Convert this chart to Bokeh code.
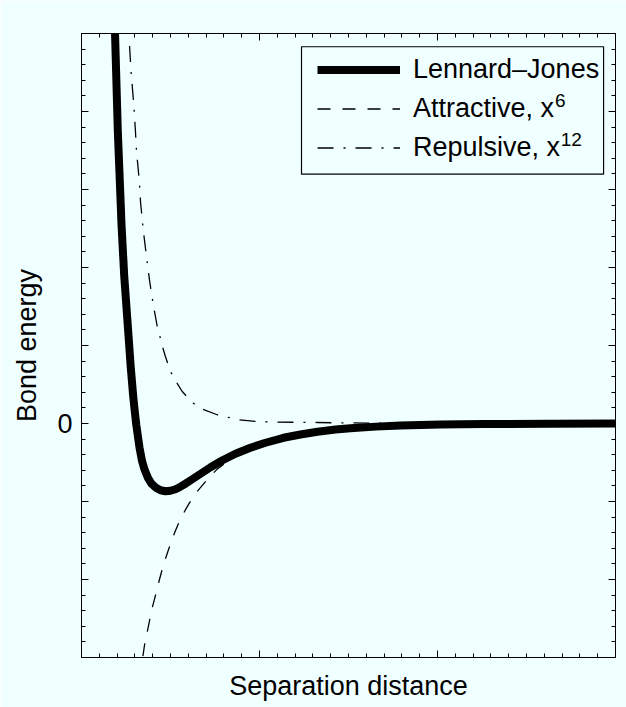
from bokeh.plotting import figure
from bokeh.models import (LinearAxis, FixedTicker, Legend, LegendItem, BoxAnnotation,
                          Label, Range1d, CustomJSTickFormatter)
from bokeh.embed import file_html
from bokeh.resources import INLINE

# ---- data (axis units: x 0..3, y -3..5) ----
lj_x = [0.183, 0.188, 0.204, 0.225, 0.240, 0.258, 0.276, 0.290, 0.300, 0.308, 0.316, 0.326,
        0.340, 0.354, 0.374, 0.393, 0.416, 0.444, 0.472, 0.500, 0.528, 0.556, 0.584, 0.618,
        0.652, 0.725, 0.792, 0.865, 0.949, 1.034, 1.135, 1.230, 1.326, 1.427, 1.511, 1.652,
        1.792, 2.017, 2.258, 2.635, 3.0]
lj_y = [5.42, 5.03, 3.75, 2.54, 1.89, 1.32, 0.74, 0.36, 0.14, -0.02, -0.15, -0.31,
        -0.48, -0.59, -0.70, -0.77, -0.82, -0.856, -0.869, -0.862, -0.843, -0.81, -0.772, -0.721,
        -0.67, -0.561, -0.471, -0.388, -0.311, -0.247, -0.183, -0.141, -0.106, -0.078, -0.06, -0.04,
        -0.027, -0.014, -0.006, -0.003, -0.001]

att_x = [0.326, 0.344, 0.356, 0.375, 0.393, 0.416, 0.438, 0.462, 0.490, 0.523, 0.556, 0.603,
         0.650, 0.714, 0.762, 0.837, 0.978, 1.135, 1.326, 1.511, 1.792, 2.258, 3.0]
att_y = [-3.30, -3.00, -2.81, -2.61, -2.40, -2.20, -2.00, -1.80, -1.61, -1.40, -1.22, -1.03,
         -0.87, -0.70, -0.585, -0.46, -0.29, -0.19, -0.12, -0.066, -0.031, -0.009, -0.002]

rep_x = [0.270, 0.279, 0.292, 0.303, 0.309, 0.324, 0.332, 0.347, 0.365, 0.382, 0.395, 0.406,
         0.425, 0.437, 0.453, 0.472, 0.500, 0.532, 0.566, 0.622, 0.678, 0.762, 0.884, 0.987,
         1.099, 1.324, 1.427, 1.792, 3.0]
rep_y = [4.84, 4.49, 4.14, 3.75, 3.49, 3.13, 2.83, 2.48, 2.14, 1.84, 1.64, 1.49,
         1.25, 1.15, 1.00, 0.855, 0.667, 0.535, 0.41, 0.269, 0.185, 0.112, 0.047, 0.026,
         0.018, 0.013, 0.009, 0.003, 0.0]

x_major = [0, 1, 2, 3]
y_major = [-3, -2, -1, 0, 1, 2, 3, 4, 5]
labels = ["Lennard\u2013Jones", "Attractive, x", "Repulsive, x"]
superscripts = ["6", "12"]

BG = "#f0ffff"
FONT = "Liberation Sans"

p = figure(frame_width=534, frame_height=624, x_range=Range1d(0, 3), y_range=Range1d(-3, 5),
           output_backend="svg", toolbar_location=None,
           min_border_left=81, min_border_right=11, min_border_top=33, min_border_bottom=50,
           background_fill_color=BG, border_fill_color=BG)
p.xgrid.visible = False
p.ygrid.visible = False
p.outline_line_color = "black"
p.outline_line_width = 1

xt = FixedTicker(ticks=x_major, minor_ticks=[i / 10 for i in range(31)])
yt = FixedTicker(ticks=y_major, minor_ticks=[-3 + 0.2 * i for i in range(41)])
blank = CustomJSTickFormatter(code="return '';")
zero_only = CustomJSTickFormatter(code="return Math.abs(tick) < 1e-9 ? '0' : '';")


def style(ax):
    ax.major_tick_in = 7
    ax.major_tick_out = 0
    ax.minor_tick_in = 4
    ax.minor_tick_out = 0
    ax.axis_line_color = "black"
    ax.major_tick_line_color = "black"
    ax.minor_tick_line_color = "black"


xa = p.xaxis[0]
xa.ticker = xt
xa.formatter = blank
xa.axis_label = "Separation distance"
xa.axis_label_text_font = FONT
xa.axis_label_text_font_size = "27px"
xa.axis_label_text_font_style = "normal"
xa.axis_label_text_color = "black"
xa.axis_label_standoff = 13
xa.major_label_text_font_size = "1px"
style(xa)

ya = p.yaxis[0]
ya.ticker = yt
ya.formatter = zero_only
ya.axis_label = "Bond energy"
ya.axis_label_text_font = FONT
ya.axis_label_text_font_size = "27px"
ya.axis_label_text_font_style = "normal"
ya.axis_label_text_color = "black"
ya.axis_label_standoff = 12
ya.major_label_text_font = FONT
ya.major_label_text_font_size = "27px"
ya.major_label_text_color = "black"
ya.major_label_standoff = 9
style(ya)

top = LinearAxis(ticker=xt, formatter=blank, major_label_text_font_size="1px")
style(top)
p.add_layout(top, "above")
right = LinearAxis(ticker=yt, formatter=blank, major_label_text_font_size="1px")
style(right)
p.add_layout(right, "right")

r_lj = p.line(lj_x, lj_y, line_color="black", line_width=8, line_join="round")
r_att = p.line(att_x, att_y, line_color="black", line_width=1.3, line_dash="13 12")
r_rep = p.line(rep_x, rep_y, line_color="black", line_width=1.3, line_dash="16 10 2 10")

box = BoxAnnotation(left=1.236, right=2.933, bottom=3.197, top=4.83,
                    fill_color=BG, fill_alpha=1.0, line_color="black", line_alpha=1.0,
                    line_width=1.2)
p.add_layout(box)

legend = Legend(items=[LegendItem(label=labels[0], renderers=[r_lj]),
                       LegendItem(label=labels[1], renderers=[r_att]),
                       LegendItem(label=labels[2], renderers=[r_rep])],
                location=(236, 490), padding=0, spacing=0, margin=0,
                glyph_width=83, glyph_height=39, label_height=39, label_standoff=13,
                label_text_font=FONT, label_text_font_size="27px", label_text_color="black",
                border_line_alpha=0, background_fill_alpha=0)
p.add_layout(legend)

for txt, xs, ys in zip(superscripts, [2.660, 2.692], [4.146, 3.646]):
    p.add_layout(Label(x=xs, y=ys, text=txt, text_font=FONT, text_font_size="19px",
                       text_baseline="middle", text_align="left", text_color="black"))

open("out.html", "w").write(file_html(p, INLINE))
